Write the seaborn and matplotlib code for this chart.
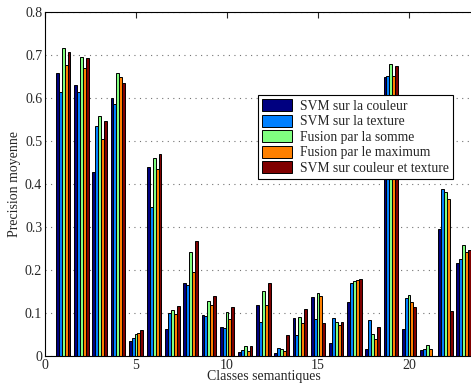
import numpy as np
import pandas as pd
import seaborn as sns
import matplotlib.pyplot as plt

classes = list(range(1, 24))

svm_couleur = [0.659, 0.630, 0.429, 0.599, 0.036, 0.440, 0.062, 0.169, 0.095, 0.068,
               0.010, 0.119, 0.006, 0.088, 0.138, 0.031, 0.126, 0.016, 0.648, 0.063,
               0.014, 0.296, 0.216]
svm_texture = [0.615, 0.614, 0.535, 0.586, 0.043, 0.347, 0.099, 0.164, 0.094, 0.064,
               0.014, 0.079, 0.019, 0.048, 0.085, 0.089, 0.170, 0.084, 0.651, 0.134,
               0.016, 0.388, 0.225]
fusion_somme = [0.716, 0.696, 0.559, 0.657, 0.051, 0.461, 0.107, 0.241, 0.128, 0.102,
                0.023, 0.152, 0.016, 0.091, 0.147, 0.078, 0.174, 0.051, 0.678, 0.141,
                0.026, 0.381, 0.258]
fusion_max = [0.677, 0.669, 0.505, 0.650, 0.053, 0.434, 0.098, 0.195, 0.119, 0.086,
              0.012, 0.119, 0.011, 0.076, 0.140, 0.071, 0.177, 0.039, 0.651, 0.126,
              0.016, 0.366, 0.241]
svm_couleur_texture = [0.708, 0.694, 0.547, 0.636, 0.060, 0.470, 0.116, 0.267, 0.140, 0.114,
                       0.023, 0.170, 0.048, 0.109, 0.077, 0.079, 0.180, 0.067, 0.674, 0.115,
                       0.0, 0.105, 0.247]

series_names = ["SVM sur la couleur", "SVM sur la texture", "Fusion par la somme",
                "Fusion par le maximum", "SVM sur couleur et texture"]
colors = ["#000080", "#0080ff", "#80ff80", "#ff8000", "#800000"]

rows = []
for name, vals in zip(series_names, [svm_couleur, svm_texture, fusion_somme,
                                     fusion_max, svm_couleur_texture]):
    for c, v in zip(classes, vals):
        rows.append({"classe": c, "serie": name, "precision": v})
df = pd.DataFrame(rows)

sns.set_style("white")
plt.rcParams["font.family"] = ["Liberation Serif", "DejaVu Serif"]
plt.rcParams["font.size"] = 10

fig = plt.figure(figsize=(4.71, 3.89), dpi=100)
ax = fig.add_axes([45 / 471, 33 / 389, 24 * 18.2 / 471, 344 / 389])

sns.barplot(
    data=df,
    x="classe",
    y="precision",
    hue="serie",
    hue_order=series_names,
    palette=colors,
    native_scale=True,
    width=0.8,
    errorbar=None,
    edgecolor="black",
    linewidth=0.7,
    saturation=1,
    ax=ax
)

ax.set_xlim(0, 24)
ax.set_ylim(0, 0.8)
ax.set_xticks([0, 5, 10, 15, 20])
ax.set_xticklabels(["0", "5", "10", "15", "20"])
ax.set_yticks(np.arange(0, 0.81, 0.1))
ax.set_yticklabels(["0", "0.1", "0.2", "0.3", "0.4", "0.5", "0.6", "0.7", "0.8"])
ax.yaxis.grid(True, linestyle=(0, (1, 4)), color="0.45", linewidth=0.8)
ax.xaxis.grid(False)
ax.set_axisbelow(True)
ax.tick_params(direction="in", top=True, right=True, length=4, labelsize=10, pad=2)
for s in ax.spines.values():
    s.set_color("black")
    s.set_linewidth(0.8)

ax.set_xlabel("Classes semantiques", fontsize=10, labelpad=-1)
ax.set_ylabel("Precision moyenne", fontsize=10, labelpad=3)

leg = ax.legend(
    loc="upper left",
    bbox_to_anchor=((258 - 45) / (24 * 18.2), (356 - 95) / 344),
    fontsize=9.8,
    frameon=True,
    fancybox=False,
    edgecolor="black",
    framealpha=1,
    borderpad=0.3,
    labelspacing=0.13,
    handlelength=2.2,
    handleheight=1.0,
    handletextpad=0.6,
    borderaxespad=0
)
leg.get_frame().set_linewidth(0.8)

plt.savefig("out.png", dpi=100)
plt.close()
